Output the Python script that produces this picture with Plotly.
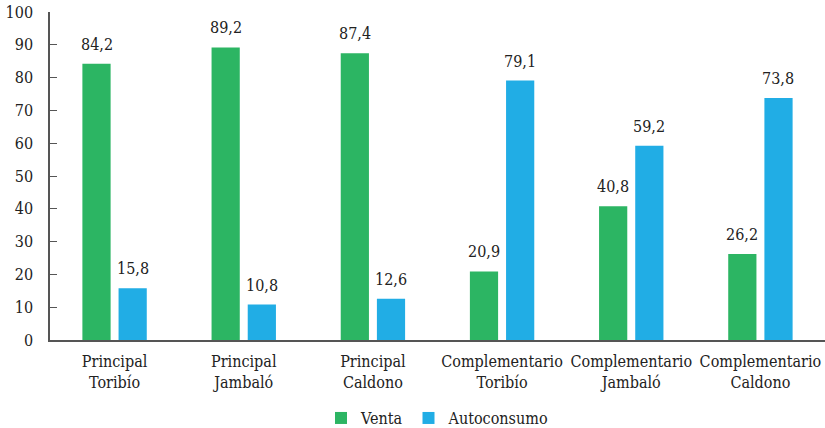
import plotly.graph_objects as go

categories = ["Principal<br>Toribío", "Principal<br>Jambaló", "Principal<br>Caldono",
              "Complementario<br>Toribío", "Complementario<br>Jambaló", "Complementario<br>Caldono"]
venta = [84.2, 89.2, 87.4, 20.9, 40.8, 26.2]
autoconsumo = [15.8, 10.8, 12.6, 79.1, 59.2, 73.8]
y_ticks = list(range(0, 101, 10))

GREEN = "#2cb563"
BLUE = "#21ade5"
FONT = "DejaVu Serif Condensed"
SIZE = 16
TXT = "#222"

fig = go.Figure()
fig.add_bar(x=categories, y=venta, name="Venta", marker_color=GREEN, marker_line_width=0)
fig.add_bar(x=categories, y=autoconsumo, name="Autoconsumo", marker_color=BLUE, marker_line_width=0)

# value labels above each bar
for series, shift in ((venta, -18), (autoconsumo, 18)):
    for cat, val in zip(categories, series):
        fig.add_annotation(x=cat, y=val, xref="x", yref="y", xshift=shift, yshift=8,
                           text=f"{val:.1f}".replace(".", ","), showarrow=False,
                           yanchor="bottom", font=dict(family=FONT, size=SIZE, color=TXT))

fig.update_layout(
    width=825, height=428,
    margin=dict(l=50, r=0, t=12, b=88, autoexpand=False),
    paper_bgcolor="white", plot_bgcolor="white",
    barmode="group", bargap=0.44, bargroupgap=0.22,
    font=dict(family=FONT, size=SIZE, color=TXT),
    legend=dict(orientation="h", x=0.5, xanchor="center", y=-0.238, yanchor="middle",
                font=dict(family=FONT, size=SIZE, color=TXT), itemwidth=30,
                traceorder="normal"),
)
fig.update_xaxes(showline=True, linecolor="#555", linewidth=1.5, ticks="", showgrid=False,
                 automargin=False, ticklabelstandoff=6,
                 tickfont=dict(family=FONT, size=SIZE, color=TXT))
fig.update_yaxes(range=[0, 100], tickvals=y_ticks, showline=True, linecolor="#555", linewidth=1.5,
                 ticks="inside", ticklen=7, tickcolor="#555", showgrid=False, zeroline=False,
                 automargin=False,
                 tickfont=dict(family=FONT, size=SIZE, color=TXT), ticklabelstandoff=12)

fig.write_html("out.html")
